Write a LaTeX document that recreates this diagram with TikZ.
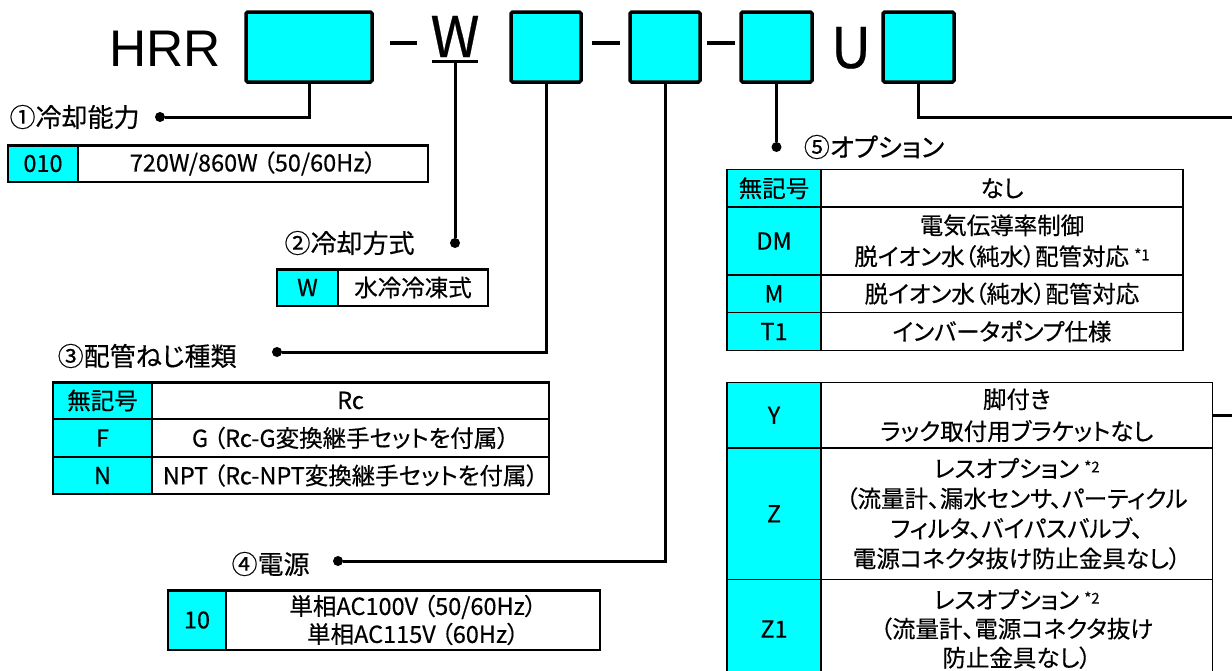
\documentclass[tikz,border=0pt]{standalone}
\usepackage{fontspec}
\setmainfont{Noto Sans CJK JP}[RawFeature=+palt,FakeBold=0.4]
\newfontfamily\modelfont{Liberation Sans}
\usetikzlibrary{positioning}
\definecolor{codecyan}{HTML}{00FFFF}
\newcommand\notemark[1]{\ \raisebox{5pt}{\fontsize{15}{15}\selectfont *#1}}

\begin{document}
\begin{tikzpicture}[x=1pt,y=-1pt,
    partbox/.style={draw,line width=3.5pt,fill=codecyan,rounded corners=1.5pt,minimum width=70pt,minimum height=70pt,anchor=north west,inner sep=0pt,outer sep=0pt},
    conn/.style={line width=3pt},
    tick/.style={line width=4pt},
    dot/.style={circle,fill,inner sep=0pt,minimum size=10pt},
    head/.style={font=\fontsize{26}{30}\selectfont,inner sep=0pt},
    big/.style={font=\fontsize{56}{56}\selectfont,inner sep=0pt},
    code/.style={draw,line width=1.3pt,fill=codecyan,anchor=north west,inner sep=0pt,outer sep=0pt,font=\fontsize{23.5}{29}\selectfont},
    desc/.style={draw,line width=1.3pt,fill=white,anchor=north west,inner sep=0pt,outer sep=0pt,align=center,font=\fontsize{23.5}{29}\selectfont}]
    \useasboundingbox[fill=white] (0,0) rectangle (1232,670);
    % model code
    \node[big,anchor=base,font=\modelfont\fontsize{51.5}{52}\selectfont] (hrr) at (165,66) {HRR};
    \node[partbox,minimum width=126pt] (b1) at (246,12) {};
    \draw[tick] (390,43) -- (417,43);
    \node[big,anchor=base] (w) at (455,57) {W};
    \coordinate (wu) at (455,61);
    \draw[conn] (432,61) -- (478,61);
    \node[partbox] (b2) at (511,12) {};
    \draw[tick] (592,43) -- (620,43);
    \node[partbox] (b3) at (630,12) {};
    \draw[tick] (707,43) -- (735,43);
    \node[partbox,minimum width=71pt] (b4) at (741,12) {};
    \node[big,anchor=base] (u) at (851,68) {U};
    \node[partbox,minimum width=71pt] (b5) at (883,12) {};
    % leader lines
    \node[dot] (d1) at (160,117) {};
    \node[dot] (d2) at (455,243) {};
    \node[dot] (d3) at (277,352) {};
    \node[dot] (d4) at (338,561) {};
    \node[dot] (d5) at (776.5,147) {};
    \coordinate (e5) at (1240,117);
    \draw[conn] (b1.south) |- (d1);
    \draw[conn] (wu) -- (d2);
    \draw[conn] (b2.south) |- (d3);
    \draw[conn] (b3.south) |- (d4);
    \draw[conn] (b4.south) -- (d5);
    \draw[conn] (b5.south) |- (e5);
    \node[head,left=15pt of d1] (h1) {①冷却能力};
    \node[head,left=35pt of d2] (h2) {②冷却方式};
    \node[head,left=35pt of d3,yshift=-4pt] (h3) {③配管ねじ種類};
    \node[head,left=23pt of d4,yshift=-3pt] (h4) {④電源};
    \node[head,right=22pt of d5] (h5) {⑤オプション};
    % 1
    \node[code,minimum width=70pt,minimum height=37pt] (t1c) at (8,145) {010};
    \node[desc,minimum width=350pt,minimum height=37pt] (t1d) at (t1c.north east) {720W/860W （50/60Hz）};
    \draw[line width=3pt] (t1c.north west) -- (t1d.north east);
    % 2
    \node[code,minimum width=61pt,minimum height=37pt] (t2c) at (277,269) {W};
    \node[desc,minimum width=150pt,minimum height=37pt] (t2d) at (t2c.north east) {水冷冷凍式};
    \draw[line width=3pt] (t2c.north west) -- (t2d.north east);
    % 3
    \node[code,minimum width=99pt,minimum height=37pt] (t3c1) at (53,382) {無記号};
    \node[desc,minimum width=397pt,minimum height=37pt] (t3d1) at (t3c1.north east) {Rc};
    \node[code,minimum width=99pt,minimum height=38pt] (t3c2) at (t3c1.south west) {F};
    \node[desc,minimum width=397pt,minimum height=38pt] (t3d2) at (t3c2.north east) {G （Rc-G変換継手セットを付属）};
    \node[code,minimum width=99pt,minimum height=37pt] (t3c3) at (t3c2.south west) {N};
    \node[desc,minimum width=397pt,minimum height=37pt] (t3d3) at (t3c3.north east) {NPT （Rc-NPT変換継手セットを付属）};
    \draw[line width=3pt] (t3c1.north west) -- (t3d1.north east);
    % 4
    \node[code,minimum width=58pt,minimum height=60pt] (t4c) at (168,590) {10};
    \node[desc,minimum width=374pt,minimum height=60pt,font=\fontsize{23.5}{28}\selectfont] (t4d) at (t4c.north east) {単相AC100V （50/60Hz）\\単相AC115V （60Hz）};
    \draw[line width=3pt] (t4c.north west) -- (t4d.north east);
    % 5
    \node[code,minimum width=94pt,minimum height=37.5pt] (t5c1) at (727,169.5) {無記号};
    \node[desc,minimum width=362pt,minimum height=37.5pt] (t5d1) at (t5c1.north east) {なし};
    \node[code,minimum width=94pt,minimum height=68pt] (t5c2) at (t5c1.south west) {DM};
    \node[desc,minimum width=362pt,minimum height=68pt,font=\fontsize{23.5}{31}\selectfont] (t5d2) at (t5c2.north east) {電気伝導率制御\\脱イオン水（純水）配管対応\notemark{1}};
    \node[code,minimum width=94pt,minimum height=37.5pt] (t5c3) at (t5c2.south west) {M};
    \node[desc,minimum width=362pt,minimum height=37.5pt] (t5d3) at (t5c3.north east) {脱イオン水（純水）配管対応};
    \node[code,minimum width=94pt,minimum height=38pt] (t5c4) at (t5c3.south west) {T1};
    \node[desc,minimum width=362pt,minimum height=38pt] (t5d4) at (t5c4.north east) {インバータポンプ仕様};
    % 6
    \node[code,minimum width=94pt,minimum height=65.5pt] (t6c1) at (727,382.5) {Y};
    \node[desc,minimum width=391.5pt,minimum height=65.5pt,font=\fontsize{23.5}{32}\selectfont] (t6d1) at (t6c1.north east) {脚付き\\ラック取付用ブラケットなし};
    \node[code,minimum width=94pt,minimum height=131.5pt] (t6c2) at (t6c1.south west) {Z};
    \node[desc,minimum width=391.5pt,minimum height=131.5pt,font=\fontsize{23.5}{30}\selectfont] (t6d2) at (t6c2.north east) {レスオプション\notemark{2}\\（流量計、漏水センサ、パーティクル\\フィルタ、バイパスバルブ、\\電源コネクタ抜け防止金具なし）};
    \node[code,minimum width=94pt,minimum height=99pt] (t6c3) at (t6c2.south west) {Z1};
    \node[desc,minimum width=391.5pt,minimum height=99pt] (t6d3) at (t6c3.north east) {レスオプション\notemark{2}\\（流量計、電源コネクタ抜け\\防止金具なし）};
    \draw[conn] (t6d1.east) -- (t6d1.east -| e5);
\end{tikzpicture}
\end{document}
